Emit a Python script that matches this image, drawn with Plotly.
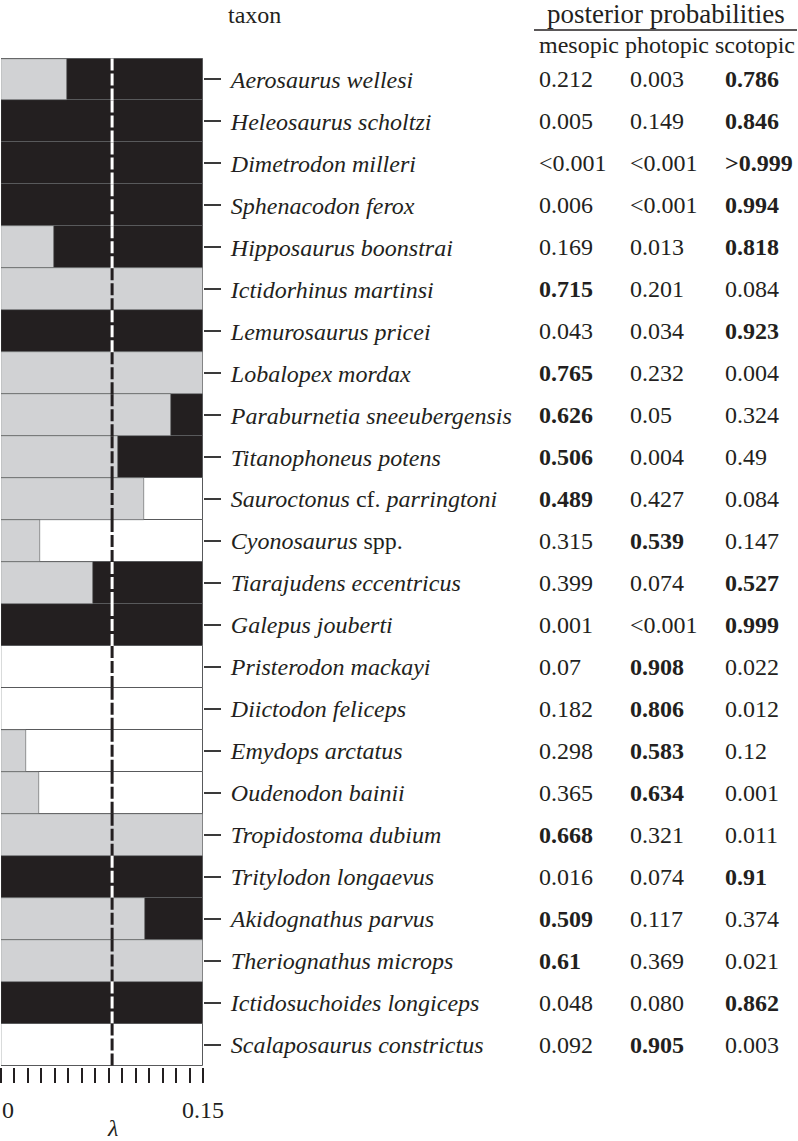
import plotly.graph_objects as go

# taxa, top to bottom
taxa = [
    "<i>Aerosaurus wellesi</i>",
    "<i>Heleosaurus scholtzi</i>",
    "<i>Dimetrodon milleri</i>",
    "<i>Sphenacodon ferox</i>",
    "<i>Hipposaurus boonstrai</i>",
    "<i>Ictidorhinus martinsi</i>",
    "<i>Lemurosaurus pricei</i>",
    "<i>Lobalopex mordax</i>",
    "<i>Paraburnetia sneeubergensis</i>",
    "<i>Titanophoneus potens</i>",
    "<i>Sauroctonus</i> cf. <i>parringtoni</i>",
    "<i>Cyonosaurus</i> spp.",
    "<i>Tiarajudens eccentricus</i>",
    "<i>Galepus jouberti</i>",
    "<i>Pristerodon mackayi</i>",
    "<i>Diictodon feliceps</i>",
    "<i>Emydops arctatus</i>",
    "<i>Oudenodon bainii</i>",
    "<i>Tropidostoma dubium</i>",
    "<i>Tritylodon longaevus</i>",
    "<i>Akidognathus parvus</i>",
    "<i>Theriognathus microps</i>",
    "<i>Ictidosuchoides longiceps</i>",
    "<i>Scalaposaurus constrictus</i>",
]

mesopic = ["0.212", "0.005", "<0.001", "0.006", "0.169", "0.715", "0.043", "0.765",
           "0.626", "0.506", "0.489", "0.315", "0.399", "0.001", "0.07", "0.182",
           "0.298", "0.365", "0.668", "0.016", "0.509", "0.61", "0.048", "0.092"]
photopic = ["0.003", "0.149", "<0.001", "<0.001", "0.013", "0.201", "0.034", "0.232",
            "0.05", "0.004", "0.427", "0.539", "0.074", "<0.001", "0.908", "0.806",
            "0.583", "0.634", "0.321", "0.074", "0.117", "0.369", "0.080", "0.905"]
scotopic = ["0.786", "0.846", ">0.999", "0.994", "0.818", "0.084", "0.923", "0.004",
            "0.324", "0.49", "0.084", "0.147", "0.527", "0.999", "0.022", "0.012",
            "0.12", "0.001", "0.011", "0.91", "0.374", "0.021", "0.862", "0.003"]

# lambda up to which the taxon is classed mesopic, and the class beyond it
mesopic_until = [0.049, 0, 0, 0, 0.039, 0.15, 0, 0.15, 0.126, 0.0866, 0.106, 0.029,
                 0.068, 0, 0, 0, 0.0186, 0.028, 0.15, 0, 0.107, 0.15, 0, 0]
class_after = ["scotopic", "scotopic", "scotopic", "scotopic", "scotopic", "mesopic",
               "scotopic", "mesopic", "scotopic", "scotopic", "photopic", "photopic",
               "scotopic", "scotopic", "photopic", "photopic", "photopic", "photopic",
               "mesopic", "scotopic", "scotopic", "mesopic", "scotopic", "photopic"]

lambda_max = 0.15
lambda_opt = 0.0825

colors = {"mesopic": "#d1d2d4", "photopic": "#ffffff", "scotopic": "#231f20"}
ink = "#231f20"
edge = "#58595b"

W, H = 798, 1141
ml, mr, mt, mb = 1, 1, 57, 74
pw = W - ml - mr
ph = H - mt - mb


def px(x):
    return (x - ml) / pw


def py(y):
    return (H - mb - y) / ph


fig = go.Figure()
fig.add_trace(go.Bar(
    y=taxa, x=[lambda_max] * len(taxa), orientation="h", width=1,
    marker_color=[colors[c] for c in class_after],
    marker_line=dict(color=edge, width=1),
    hoverinfo="skip", showlegend=False,
))
fig.add_trace(go.Bar(
    y=taxa, x=mesopic_until, orientation="h", width=1,
    marker_color=colors["mesopic"],
    marker_line=dict(color=edge, width=0.6),
    hoverinfo="skip", showlegend=False,
))

# dashed lambda line, contrasting with whatever lies under it
for i, t in enumerate(taxa):
    under = "mesopic" if mesopic_until[i] > lambda_opt else class_after[i]
    fig.add_shape(
        type="line", xref="x", yref="y",
        x0=lambda_opt, x1=lambda_opt, y0=i - 0.5, y1=i + 0.5,
        line=dict(color="white" if under == "scotopic" else ink, width=3, dash="12px,3px"),
        layer="above",
    )


def num(s):
    return float(s.strip("<>"))


# probability columns
col_x = [537, 628, 723]
for i, t in enumerate(taxa):
    vals = [mesopic[i], photopic[i], scotopic[i]]
    best = max(range(3), key=lambda k: num(vals[k]))
    for k, v in enumerate(vals):
        fig.add_annotation(
            x=px(col_x[k]), xref="paper", y=t, yref="y",
            text=f"<b>{v}</b>" if k == best else v,
            showarrow=False, xanchor="left", yanchor="middle",
            font=dict(size=24, color=ink),
        )

# headers
fig.add_annotation(x=px(226), y=py(15), xref="paper", yref="paper", text="taxon",
                   showarrow=False, xanchor="left", yanchor="middle", font=dict(size=24, color=ink))
fig.add_annotation(x=px(666), y=py(14), xref="paper", yref="paper", text="posterior probabilities",
                   showarrow=False, xanchor="center", yanchor="middle", font=dict(size=27, color=ink))
fig.add_annotation(x=px(797), y=py(45), xref="paper", yref="paper",
                   text="mesopic photopic scotopic",
                   showarrow=False, xanchor="right", yanchor="middle", font=dict(size=24, color=ink))
fig.add_shape(type="line", xref="paper", yref="paper", x0=px(534), x1=px(797),
              y0=py(30), y1=py(30), line=dict(color=ink, width=1.5))

# x tick labels and axis title
fig.add_annotation(x=0, xref="x", y=py(1110), yref="paper", text="0", xshift=7,
                   showarrow=False, yanchor="middle", font=dict(size=24, color=ink))
fig.add_annotation(x=lambda_max, xref="x", y=py(1110), yref="paper", text="0.15",
                   showarrow=False, yanchor="middle", font=dict(size=24, color=ink))
fig.add_annotation(x=lambda_opt, xref="x", y=py(1128), yref="paper", text="<i>λ</i>",
                   showarrow=False, yanchor="middle", font=dict(size=24, color=ink))

fig.update_layout(
    width=W, height=H,
    margin=dict(l=ml, r=mr, t=mt, b=mb),
    plot_bgcolor="white", paper_bgcolor="white",
    barmode="overlay", bargap=0,
    font=dict(family="Liberation Serif, Times New Roman, serif", color=ink),
    xaxis=dict(
        domain=[0, px(203)], range=[0, lambda_max], automargin=False,
        tick0=0, dtick=0.01, ticks="outside", ticklen=15, tickwidth=1.5,
        tickcolor=ink, showticklabels=False, showgrid=False, zeroline=False,
        showline=False, fixedrange=True,
    ),
    yaxis=dict(
        side="right", anchor="x", autorange="reversed", automargin=False,
        ticks="outside", ticklen=17, tickwidth=1.5, tickcolor="#3a3a3a",
        ticklabelstandoff=5,
        tickfont=dict(size=24, color=ink),
        showgrid=False, zeroline=False, showline=False, fixedrange=True,
    ),
)

# drop the browser's default page margin so the figure sits at the window corner
fig.write_html("out.html", config={"displayModeBar": False},
               post_script="document.body.style.margin='0';")
